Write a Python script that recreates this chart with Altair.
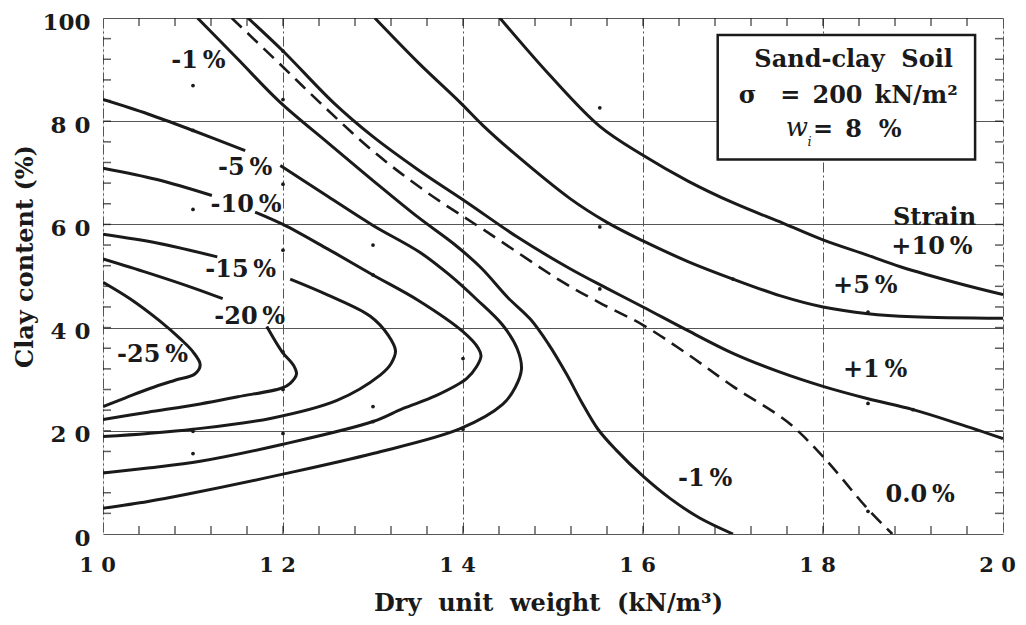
import altair as alt
import pandas as pd

# ---------------- curve data (x = dry unit weight, y = clay content) ----------------
m25_x = [10.0, 10.3, 10.63, 10.86, 11.0, 11.08, 11.02, 10.8, 10.52, 10.25, 10.0]
m25_y = [48.8, 45.6, 41.3, 37.8, 35.3, 32.8, 31.0, 29.8, 28.2, 26.4, 24.7]

m20a_x = [10.0, 10.5, 11.0, 11.33]
m20a_y = [53.3, 50.6, 47.7, 45.6]
m20b_x = [11.82, 11.99, 12.12, 12.15, 12.08, 11.99, 11.5, 11.08, 10.5, 10.0]
m20b_y = [40.2, 35.3, 32.6, 31.0, 29.2, 28.3, 26.6, 25.2, 23.6, 22.2]

m15a_x = [10.0, 10.6, 11.27]
m15a_y = [58.1, 56.4, 53.7]
m15b_x = [12.08, 12.5, 12.97, 13.17, 13.25, 13.2, 13.08, 12.6, 11.86, 11.0, 10.5, 10.0]
m15b_y = [49.4, 46.3, 42.2, 38.5, 35.5, 33.0, 30.8, 25.9, 22.4, 20.3, 19.5, 18.9]

m10a_x = [10.0, 10.6, 11.21]
m10a_y = [70.9, 68.7, 65.6]
m10b_x = [11.69, 12.0, 12.5, 13.0, 13.5, 14.0, 14.17, 14.2, 14.15, 14.04, 13.7, 13.33, 13.0, 12.0, 11.08, 10.5, 10.0]
m10b_y = [62.4, 60.0, 55.2, 50.2, 45.3, 39.2, 36.0, 34.5, 32.4, 30.1, 26.8, 24.3, 21.8, 17.4, 14.1, 12.8, 11.8]

m5a_x = [10.0, 10.5, 11.0, 11.58]
m5a_y = [84.2, 81.4, 78.2, 74.3]
m5b_x = [11.97, 12.5, 13.0, 13.52, 13.85, 14.15, 14.44, 14.6, 14.65, 14.58, 14.44, 13.97, 13.0, 12.0, 10.93, 10.5, 10.0]
m5b_y = [71.4, 65.4, 59.8, 54.6, 50.2, 45.5, 40.5, 36.0, 32.0, 28.4, 25.1, 20.4, 15.6, 11.6, 7.7, 6.3, 5.0]

m1_x = [11.05, 11.5, 11.96, 12.5, 13.0, 13.5, 13.9, 14.2, 14.5, 14.75, 14.95, 15.15, 15.32, 15.5, 15.7, 16.0, 16.3, 16.63, 17.0]
m1_y = [100.0, 92.0, 83.8, 75.8, 68.5, 61.4, 56.2, 51.6, 45.8, 41.6, 36.8, 31.0, 25.5, 20.3, 16.3, 11.2, 6.9, 3.1, 0.0]

z0_x = [11.43, 12.0, 12.41, 13.0, 13.6, 14.27, 15.11, 15.52, 16.0, 16.5, 17.0, 17.6, 18.0, 18.49, 18.77]
z0_y = [100.0, 90.5, 83.6, 74.2, 66.2, 58.5, 48.8, 44.8, 40.5, 34.8, 28.6, 21.8, 15.0, 5.0, 0.0]

p1_x = [11.61, 12.0, 12.56, 13.0, 13.5, 14.04, 14.6, 15.19, 15.6, 16.0, 16.5, 17.0, 17.5, 18.0, 18.5, 19.0, 19.5, 20.0]
p1_y = [100.0, 93.6, 83.6, 77.0, 70.6, 64.3, 57.6, 51.4, 47.6, 44.0, 39.4, 35.0, 31.5, 28.6, 26.2, 24.1, 21.4, 18.5]

p5_x = [13.02, 13.5, 13.97, 14.22, 14.56, 15.19, 15.6, 16.0, 16.5, 17.0, 17.52, 18.0, 18.5, 19.0, 20.0]
p5_y = [100.0, 91.4, 83.6, 79.2, 73.9, 65.0, 60.4, 56.8, 52.8, 49.4, 46.2, 44.0, 42.7, 42.1, 41.8]

p10_x = [14.41, 14.97, 15.52, 16.0, 16.5, 17.0, 17.56, 18.0, 18.5, 18.86, 19.5, 20.0]
p10_y = [100.0, 88.8, 79.0, 73.4, 68.4, 64.2, 60.2, 57.0, 54.0, 51.8, 48.6, 46.4]

# measured points (small dots)
dots_x = [11.0, 12.0, 12.0, 11.0, 12.0, 13.0, 12.0, 15.52, 15.52, 17.0, 18.5, 11.0, 11.0,
          13.0, 13.0, 12.0, 12.0, 12.0, 14.0, 14.0, 18.5, 19.0, 18.5, 15.52, 13.0, 11.0]
dots_y = [86.9, 93.6, 67.8, 62.9, 55.0, 56.0, 84.2, 82.6, 59.5, 49.4, 43.0, 19.9, 15.6,
          24.7, 21.8, 19.5, 35.3, 28.0, 34.0, 20.3, 25.3, 24.1, 4.4, 47.5, 50.2, 78.2]

# curve labels
lab_text = ["-1\u2009%", "-5\u2009%", "-10\u2009%", "-15\u2009%", "-20\u2009%", "-25\u2009%",
            "Strain", "+10\u2009%", "+5\u2009%", "+1\u2009%", "-1\u2009%", "0.0\u2009%"]
lab_x = [11.06, 11.58, 11.59, 11.53, 11.63, 10.55, 19.24, 19.21, 18.47, 18.58, 16.69, 19.08]
lab_y = [91.7, 71.0, 63.7, 51.2, 42.1, 34.7, 61.2, 55.6, 48.1, 31.7, 10.6, 7.5]

# info box
box_x, box_x2 = [16.83], [19.69]
box_y, box_y2 = [72.6], [96.7]
box_text = ["Sand-clay\u00a0 Soil", "\u03c3\u2003=\u2002200\u2002kN/m\u00b2"]
box_text_x = [18.34, 18.28]
box_text_y = [91.9, 84.9]
w_text = ["w", "i"]
w_x = [17.71, 17.85]
w_y = [78.6, 75.9]
eq_text = ["=\u20028\u2002\u2009%"]
eq_x = [17.89]
eq_y = [78.2]

# axis ticks
x_major = [10, 12, 14, 16, 18, 20]
y_major = [0, 20, 40, 60, 80, 100]
x_minor = [round(10 + 0.4 * k, 1) for k in range(1, 25)]
y_minor = [4 * k for k in range(1, 25)]

# ---------------- build tables ----------------
INK = "#1a1a1a"
FONT = "DejaVu Serif"

solid_parts = [("m25", m25_x, m25_y), ("m20a", m20a_x, m20a_y), ("m20b", m20b_x, m20b_y),
               ("m15a", m15a_x, m15a_y), ("m15b", m15b_x, m15b_y),
               ("m10a", m10a_x, m10a_y), ("m10b", m10b_x, m10b_y),
               ("m5a", m5a_x, m5a_y), ("m5b", m5b_x, m5b_y),
               ("m1", m1_x, m1_y), ("p1", p1_x, p1_y), ("p5", p5_x, p5_y), ("p10", p10_x, p10_y)]
rows = []
for name, xs, ys in solid_parts:
    for i, (a, b) in enumerate(zip(xs, ys)):
        rows.append({"seg": name, "i": i, "x": a, "y": b})
solid_df = pd.DataFrame(rows)
dash_df = pd.DataFrame({"i": list(range(len(z0_x))), "x": z0_x, "y": z0_y})
dots_df = pd.DataFrame({"x": dots_x, "y": dots_y})
lab_df = pd.DataFrame({"x": lab_x, "y": lab_y, "t": lab_text})
box_df = pd.DataFrame({"x": box_x, "x2": box_x2, "y": box_y, "y2": box_y2})
boxt_df = pd.DataFrame({"x": box_text_x, "y": box_text_y, "t": box_text})
w_df = pd.DataFrame({"x": w_x[:1], "y": w_y[:1], "t": w_text[:1]})
wi_df = pd.DataFrame({"x": w_x[1:], "y": w_y[1:], "t": w_text[1:]})
eq_df = pd.DataFrame({"x": eq_x, "y": eq_y, "t": eq_text})
xt_df = pd.DataFrame({"x": x_minor * 2, "y": [0] * len(x_minor) + [100] * len(x_minor)})
yt_df = pd.DataFrame({"y": y_minor * 2, "x": [10] * len(y_minor) + [20] * len(y_minor)})

X = alt.X("x:Q", scale=alt.Scale(domain=[10, 20], nice=False, zero=False),
          axis=alt.Axis(values=x_major, title="Dry\u00a0 unit\u00a0 weight\u00a0 (kN/m\u00b3)",
                        grid=True, gridDash=[10, 3, 2, 3], gridColor="#555", gridWidth=1,
                        ticks=False, tickSize=0, domain=False,
                        labelExpr="substring(datum.label,0,1) + ' ' + substring(datum.label,1)",
                        labelFont=FONT, labelFontWeight="bold", labelFontSize=21, labelColor=INK,
                        labelPadding=20, labelFlush=False, labelOffset=-6,
                        titleFont=FONT, titleFontWeight="bold", titleFontSize=24, titleColor=INK,
                        titleX=445, titleY=76, titleBaseline="alphabetic"))
Y = alt.Y("y:Q", scale=alt.Scale(domain=[0, 100], nice=False, zero=False),
          axis=alt.Axis(values=y_major, title="Clay content (%)",
                        grid=True, gridColor="#555", gridWidth=1,
                        ticks=False, tickSize=0, domain=False,
                        labelExpr="(datum.value == 0 || datum.value == 100) ? datum.label : substring(datum.label,0,1) + ' ' + substring(datum.label,1)",
                        labelFont=FONT, labelFontWeight="bold", labelFontSize=23, labelColor=INK,
                        labelPadding=13, labelFlush=False, labelOffset=4,
                        titleFont=FONT, titleFontWeight="bold", titleFontSize=24, titleColor=INK,
                        titleX=-78, titleY=238, titleBaseline="middle", titleAngle=270))

lines = alt.Chart(solid_df).mark_line(color=INK, strokeWidth=3, interpolate="catmull-rom", clip=True).encode(
    x=X, y=Y, detail="seg:N", order="i:Q")
dashed = alt.Chart(dash_df).mark_line(color=INK, strokeWidth=2.6, strokeDash=[14, 8],
                                      interpolate="catmull-rom", clip=True).encode(x=X, y=Y, order="i:Q")
dots = alt.Chart(dots_df).mark_circle(color=INK, size=14, opacity=1).encode(x=X, y=Y)
xticks = alt.Chart(xt_df).mark_tick(orient="vertical", size=16, thickness=1.5, color=INK, clip=True).encode(x=X, y=Y)
yticks = alt.Chart(yt_df).mark_tick(orient="horizontal", size=16, thickness=1.5, color=INK, clip=True).encode(x=X, y=Y)
box = alt.Chart(box_df).mark_rect(fill="white", stroke=INK, strokeWidth=2.5).encode(x=X, x2="x2:Q", y=Y, y2="y2:Q")
boxt = alt.Chart(boxt_df).mark_text(font=FONT, fontWeight="bold", fontSize=24, color=INK,
                                    align="center", baseline="middle").encode(x=X, y=Y, text="t:N")
wt = alt.Chart(w_df).mark_text(font=FONT, fontStyle="italic", fontSize=26, color=INK,
                               align="center", baseline="middle").encode(x=X, y=Y, text="t:N")
wit = alt.Chart(wi_df).mark_text(font=FONT, fontStyle="italic", fontSize=13, color=INK,
                                 align="center", baseline="middle").encode(x=X, y=Y, text="t:N")
eqt = alt.Chart(eq_df).mark_text(font=FONT, fontWeight="bold", fontSize=24, color=INK,
                                 align="left", baseline="middle").encode(x=X, y=Y, text="t:N")
labels = alt.Chart(lab_df).mark_text(font=FONT, fontWeight="bold", fontSize=24, color=INK,
                                     align="center", baseline="middle").encode(x=X, y=Y, text="t:N")

chart = alt.layer(lines, dashed, dots, xticks, yticks, box, boxt, wt, wit, eqt, labels).properties(
    width=900, height=516,
    padding={"left": 95, "top": 10, "right": 15, "bottom": 83},
    autosize=alt.AutoSizeParams(type="none"),
).configure_view(stroke=INK, strokeWidth=2.5).configure(background="white")

chart.save("out.html", embed_options={"renderer": "svg", "actions": False})
